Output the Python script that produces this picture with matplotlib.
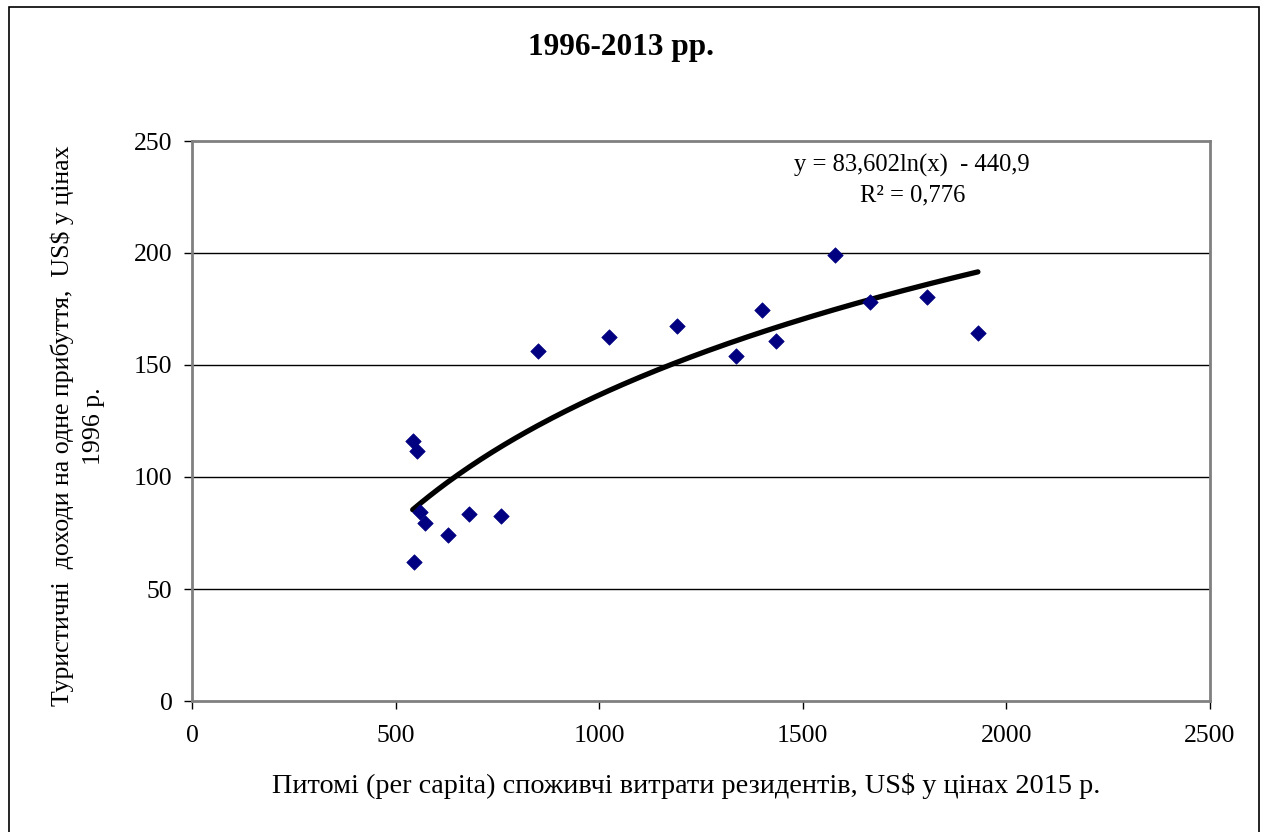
import numpy as np
import matplotlib.pyplot as plt
from matplotlib.patches import Rectangle

# витрати резидентів (x) та туристичні доходи (y), 1996-2013
spending = [542, 552, 560, 571, 628, 680, 758, 545, 850, 1023,
            1191, 1400, 1337, 1435, 1579, 1665, 1805, 1930]
receipts = [116.2, 111.7, 84.2, 79.6, 73.9, 83.5, 82.7, 61.9, 156.1, 162.5,
            167.2, 174.4, 154.2, 160.6, 199.2, 178.0, 180.2, 164.1]

coef_a, coef_b = 83.602, -440.9
xticks = [0, 500, 1000, 1500, 2000, 2500]
yticks = [0, 50, 100, 150, 200, 250]

plt.rcParams['font.family'] = ['Liberation Serif', 'DejaVu Serif']

W, H = 1265, 832
fig = plt.figure(figsize=(W / 100, H / 100), dpi=100)
ax = fig.add_axes([192 / W, 1 - 701 / H, (1210 - 192) / W, (701 - 141) / H])

# зовнішня рамка
fig.patches.append(Rectangle((9 / W, -0.05), (1259 - 9) / W, 1.05 - 7 / H,
                             transform=fig.transFigure, fill=False,
                             edgecolor='black', linewidth=1.2))

for y in yticks[1:-1]:
    ax.axhline(y, color='black', linewidth=1.0, zorder=1)

ax.scatter(spending, receipts, marker='D', s=62, color='#000080',
           edgecolors='#000080', linewidths=0.5, zorder=3)

xs = np.linspace(min(spending), max(spending), 200)
ax.plot(xs, coef_a * np.log(xs) + coef_b, color='black', linewidth=3.8,
        solid_capstyle='round', zorder=2)

ax.set_xlim(0, 2500)
ax.set_ylim(0, 250)
ax.set_xticks(xticks)
ax.set_yticks(yticks)
ax.tick_params(labelsize=18.5, length=6, width=1, color='black', direction='out')
ax.tick_params(axis='x', pad=11)
ax.tick_params(axis='y', pad=8)
for s in ax.spines.values():
    s.set_color('#808080')
    s.set_linewidth(2)

fig.text(912 / W, 1 - 165 / H, 'y = 83,602ln(x)  - 440,9', fontsize=17.7,
         ha='center', va='center')
fig.text(913 / W, 1 - 195 / H, 'R² = 0,776', fontsize=17.7, ha='center', va='center')

fig.text(621 / W, 1 - 48 / H, '1996-2013 рр.', fontsize=22.5, fontweight='bold',
         ha='center', va='center')
fig.text(686 / W, 1 - 786 / H,
         'Питомі (per capita) споживчі витрати резидентів, US$ у цінах 2015 р.',
         fontsize=20.3, ha='center', va='center')
fig.text(78 / W, 1 - 426 / H,
         'Туристичні  доходи на одне прибуття,  US$ у цінах\n1996 р.',
         fontsize=18.6, ha='center', va='center', rotation=90, linespacing=1.5)

fig.savefig('out.png', dpi=100)
